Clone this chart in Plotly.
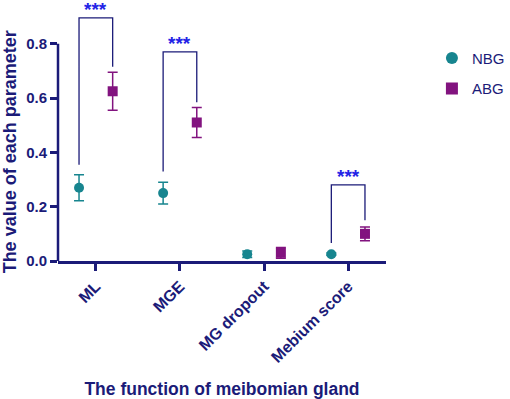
import plotly.graph_objects as go

categories = ["ML", "MGE", "MG dropout", "Mebium score"]
nbg_mean = [0.27, 0.25, 0.025, 0.025]
nbg_err = [0.048, 0.04, 0.012, 0.004]
abg_mean = [0.625, 0.51, 0.03, 0.10]
abg_err = [0.07, 0.055, 0.02, 0.025]

# significance brackets: category index, bracket top, left leg bottom, right leg bottom, star label
sig_cat = [0, 1, 3]
sig_top = [0.895, 0.77, 0.28]
sig_left = [0.354, 0.33, 0.066]
sig_right = [0.715, 0.585, 0.15]
sig_label = ["***", "***", "***"]

y_ticks = [0, 0.2, 0.4, 0.6, 0.8]

NAVY = "#1b1b78"
TEAL = "#17858f"
PURPLE = "#82137f"
STAR = "#2323e6"
FONT = "Liberation Sans, Arial, sans-serif"
off = 0.2

xs = list(range(len(categories)))
fig = go.Figure()
fig.add_trace(go.Scatter(
    x=[x - off for x in xs], y=nbg_mean, mode="markers", name="NBG", legendgroup="a",
    marker=dict(symbol="circle", size=10, color=TEAL),
    error_y=dict(type="data", array=nbg_err, color=TEAL, thickness=1.5, width=5),
    cliponaxis=False,
))
fig.add_trace(go.Scatter(
    x=[x + off for x in xs], y=abg_mean, mode="markers", name="ABG", legendgroup="b",
    marker=dict(symbol="square", size=10, color=PURPLE),
    error_y=dict(type="data", array=abg_err, color=PURPLE, thickness=1.5, width=5),
    cliponaxis=False,
))

for c, top, lb, rb, lab in zip(sig_cat, sig_top, sig_left, sig_right, sig_label):
    fig.add_trace(go.Scatter(
        x=[c - off, c - off, c + off, c + off], y=[lb, top, top, rb],
        mode="lines", line=dict(color=NAVY, width=1.3), showlegend=False,
        hoverinfo="skip",
    ))
    fig.add_annotation(x=c, y=top, text=f"<b>{lab}</b>", showarrow=False,
                       yanchor="bottom", yshift=-4,
                       font=dict(family=FONT, size=19, color=STAR))

# y axis line only up to the last tick
fig.add_shape(type="line", xref="paper", yref="y", x0=0, x1=0, y0=0, y1=y_ticks[-1],
              line=dict(color=NAVY, width=2.5))

# y axis title, centred on the drawn axis line
fig.add_annotation(xref="paper", yref="y", x=0, xshift=-48, y=(y_ticks[0] + y_ticks[-1]) / 2,
                   text="<b>The value of each parameter</b>", textangle=-90,
                   showarrow=False, xanchor="center", yanchor="middle",
                   font=dict(family=FONT, size=18, color=NAVY))

fig.update_layout(
    width=510, height=399,
    margin=dict(l=58, r=124, t=3, b=138, autoexpand=False),
    paper_bgcolor="white", plot_bgcolor="white",
    showlegend=True,
    legend=dict(x=1.14, y=0.85, xanchor="left", yanchor="top",
                font=dict(family=FONT, size=15, color=NAVY),
                bgcolor="rgba(0,0,0,0)", itemsizing="constant", tracegroupgap=8),
    xaxis=dict(
        range=[-0.45, 3.45], tickvals=xs, ticktext=[f"<b>{c}</b>" for c in categories],
        tickangle=-45, showgrid=False, zeroline=False,
        showline=True, linecolor=NAVY, linewidth=2.5,
        ticks="outside", ticklen=7, tickwidth=2.5, tickcolor=NAVY,
        tickfont=dict(family=FONT, size=16, color=NAVY),
        title=dict(text="<b>The function of meibomian gland</b>",
                   font=dict(family=FONT, size=17.5, color=NAVY), standoff=18),
    ),
    yaxis=dict(
        range=[0, 0.95], tickvals=y_ticks,
        ticktext=[f"<b>{v:.1f}</b>" for v in y_ticks],
        showgrid=False, zeroline=False, showline=False,
        ticks="outside", ticklen=7, tickwidth=2.5, tickcolor=NAVY,
        tickfont=dict(family=FONT, size=15, color=NAVY),
    ),
)

fig.write_html("out.html", config={"displayModeBar": False},
               post_script="document.body.style.margin='0';")
